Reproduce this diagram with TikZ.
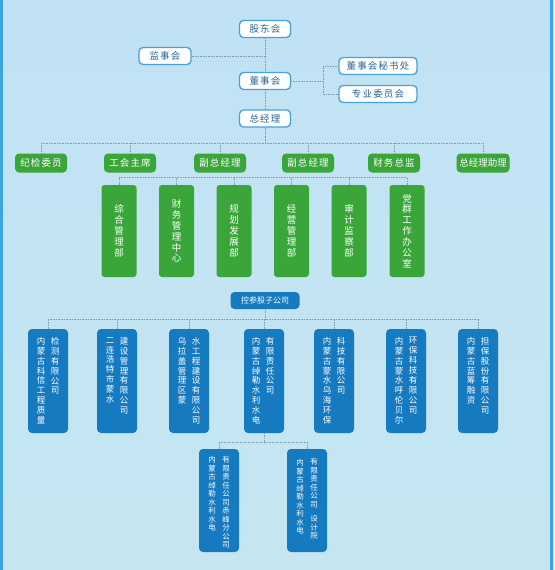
\documentclass[tikz,border=0pt]{standalone}
\usepackage{fontspec}
\setmainfont{Noto Sans CJK SC}
\newfontfamily\cjk{Noto Sans CJK SC}
\newfontfamily\cjksp[LetterSpace=12]{Noto Sans CJK SC}
\definecolor{bgtop}{RGB}{193,226,245}
\definecolor{bgbot}{RGB}{197,230,241}
\definecolor{frameblue}{RGB}{60,165,225}
\definecolor{wborder}{RGB}{70,160,220}
\definecolor{wtext}{RGB}{40,100,150}
\definecolor{gfill}{RGB}{58,166,58}
\definecolor{bfill}{RGB}{22,122,192}
\definecolor{linkgray}{RGB}{135,155,172}
\tikzset{
  wbox/.style={draw=wborder, line width=1.3pt, fill=white, rounded corners=4pt,
    text=wtext, font=\cjksp\fontsize{9.5}{11}\selectfont, minimum height=17, inner sep=0},
  gbox/.style={fill=gfill, rounded corners=4pt, text=white,
    font=\cjksp\fontsize{9.5}{11}\selectfont, minimum width=52, minimum height=19, inner sep=0},
  gtall/.style={fill=gfill, rounded corners=3pt, text=white, align=center,
    font=\cjk\fontsize{9.5}{10.9}\selectfont, minimum width=35, minimum height=92, inner sep=0},
  kbox/.style={fill=bfill, rounded corners=4pt, text=white,
    font=\cjk\fontsize{8}{10}\selectfont, minimum width=69, minimum height=17, inner sep=0},
  bbox/.style={fill=bfill, rounded corners=4pt, minimum width=40, minimum height=104, inner sep=0},
  btxt/.style={text=white, align=center, anchor=north, inner sep=0,
    font=\cjk\fontsize{8.5}{9.9}\selectfont},
  stxt/.style={text=white, align=center, anchor=north, inner sep=0,
    font=\cjk\fontsize{7.5}{8.5}\selectfont},
  link/.style={draw=linkgray, line width=0.6pt, densely dotted},
}
\begin{document}
\begin{tikzpicture}[x=1pt,y=-1pt]
\shade[top color=bgtop, bottom color=bgbot] (0,0) rectangle (554,570);
\useasboundingbox (0,0) rectangle (554,570);
\draw[frameblue, line width=2.5pt] (1.5,0) -- (1.5,570);
\draw[frameblue, line width=2.5pt] (551.5,0) -- (551.5,570);

% top level
\node[wbox, minimum width=51] (gd) at (265,29) {股东会};
\node[wbox, minimum width=52] (js) at (165,56) {监事会};
\node[wbox, minimum width=51] (dsh) at (265,81) {董事会};
\node[wbox, minimum width=78] (ms) at (378,66) {董事会秘书处};
\node[wbox, minimum width=78] (zy) at (378,94) {专业委员会};
\node[wbox, minimum width=51] (zjl) at (265,118.5) {总经理};

\draw[link] (gd.south) -- (dsh.north);
\draw[link] (dsh.south) -- (zjl.north);
\draw[link] (js.east) -- (js.east -| gd.south);
\coordinate (dk) at (323,81);
\draw[link] (dsh.east) -- (dk);
\draw[link] (ms.west) -| (dk) |- (zy.west);

% second level
\node[gbox] (g1) at (41,163) {纪检委员};
\node[gbox] (g2) at (130,163) {工会主席};
\node[gbox] (g3) at (220,163) {副总经理};
\node[gbox] (g4) at (308,163) {副总经理};
\node[gbox] (g5) at (394,163) {财务总监};
\node[gbox, minimum width=53, font=\cjk\fontsize{9.5}{11}\selectfont] (g6) at (483,163) {总经理助理};

\coordinate (b1) at (265,143);
\draw[link] (zjl.south) -- (b1);
\draw[link] (g1.north |- b1) -- (g6.north |- b1);
\foreach \n in {g1,g2,g3,g4,g5,g6} \draw[link] (\n.north) -- (\n.north |- b1);

% departments
\node[gtall] (t1) at (119,231) {综\\合\\管\\理\\部};
\node[gtall] (t2) at (176.5,231) {财\\务\\管\\理\\中\\心};
\node[gtall] (t3) at (234,231) {规\\划\\发\\展\\部};
\node[gtall] (t4) at (291.5,231) {经\\营\\管\\理\\部};
\node[gtall] (t5) at (349,231) {审\\计\\监\\察\\部};
\node[gtall] (t6) at (407,231) {党\\群\\工\\作\\办\\公\\室};

\coordinate (b2) at (265,177);
\draw[link] (t1.north |- b2) -- (t6.north |- b2);
\foreach \n in {t1,t2,t3,t4,t5,t6} \draw[link] (\n.north) -- (\n.north |- b2);

% subsidiaries
\node[kbox] (kc) at (265,300.5) {控参股子公司};
\coordinate (b3) at (265,319);

\node[bbox] (c1) at (48,381) {};
\node[bbox] (c2) at (117,381) {};
\node[bbox] (c3) at (189,381) {};
\node[bbox] (c4) at (264,381) {};
\node[bbox] (c5) at (334,381) {};
\node[bbox] (c6) at (406,381) {};
\node[bbox] (c7) at (478,381) {};

\draw[link] (kc.south) -- (b3);
\draw[link] (c1.north |- b3) -- (c7.north |- b3);
\foreach \n in {c1,c2,c3,c4,c5,c6,c7} \draw[link] (\n.north) -- (\n.north |- b3);

\node[btxt] (c1l) at (41,337) {内\\蒙\\古\\科\\信\\工\\程\\质\\量};
\node[btxt] (c1r) at (55,337) {检\\测\\有\\限\\公\\司};
\node[btxt] (c2l) at (110,337) {二\\连\\浩\\特\\市\\蒙\\水};
\node[btxt] (c2r) at (124,337) {建\\设\\管\\理\\有\\限\\公\\司};
\node[btxt] (c3l) at (182,337) {乌\\拉\\盖\\管\\理\\区\\蒙};
\node[btxt] (c3r) at (196,337) {水\\工\\程\\建\\设\\有\\限\\公\\司};
\node[btxt] (c4l) at (256,337) {内\\蒙\\古\\绰\\勒\\水\\利\\水\\电};
\node[btxt] (c4r) at (270,337) {有\\限\\责\\任\\公\\司};
\node[btxt] (c5l) at (327,337) {内\\蒙\\古\\蒙\\水\\乌\\海\\环\\保};
\node[btxt] (c5r) at (341,337) {科\\技\\有\\限\\公\\司};
\node[btxt] (c6l) at (399,337) {内\\蒙\\古\\蒙\\水\\呼\\伦\\贝\\尔};
\node[btxt] (c6r) at (413,337) {环\\保\\科\\技\\有\\限\\公\\司};
\node[btxt] (c7l) at (471,337) {内\\蒙\\古\\蓝\\筹\\融\\资};
\node[btxt] (c7r) at (485,337) {担\\保\\股\\份\\有\\限\\公\\司};

% branches of c4
\node[bbox, minimum height=103] (d1) at (219,500.5) {};
\node[bbox, minimum height=103] (d2) at (307,500.5) {};
\coordinate (b4) at (264,442);
\draw[link] (c4.south) -- (b4);
\draw[link] (d1.north |- b4) -- (d2.north |- b4);
\draw[link] (d1.north) -- (d1.north |- b4);
\draw[link] (d2.north) -- (d2.north |- b4);

\node[stxt] (d1l) at (212,456) {内\\蒙\\古\\绰\\勒\\水\\利\\水\\电};
\node[stxt] (d1r) at (226,456) {有\\限\\责\\任\\公\\司\\赤\\峰\\分\\公\\司};
\node[stxt] (d2l) at (300,459) {内\\蒙\\古\\绰\\勒\\水\\利\\水\\电};
\node[stxt] (d2r) at (314,458) {有\\限\\责\\任\\公\\司\\[6pt]设\\计\\院};
\end{tikzpicture}
\end{document}
